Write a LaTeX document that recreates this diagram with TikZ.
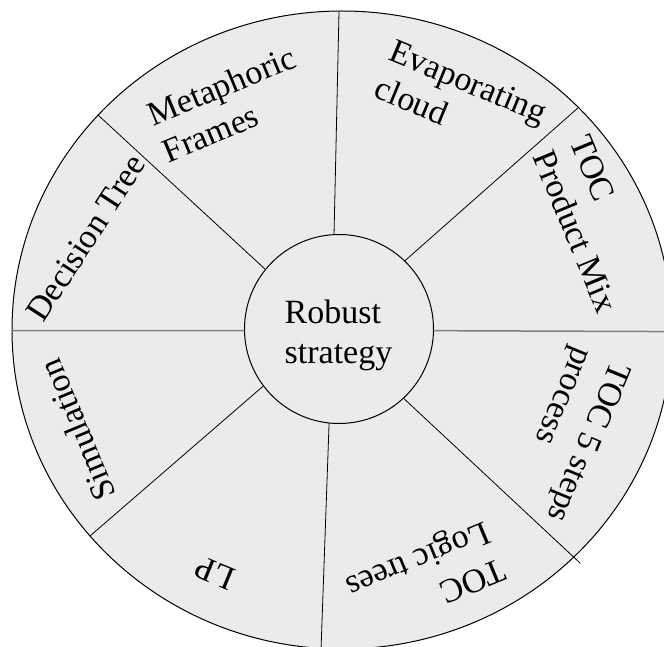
\documentclass[tikz,border=0pt]{standalone}
\usepackage{fontspec}
\setmainfont{Liberation Serif}
\usepackage{tikz}
\usetikzlibrary{calc}

\begin{document}
\begin{tikzpicture}[x=1pt, y=1pt, line cap=round, line join=round,
    rim/.style={line width=1pt, draw=black, fill=wheelFill},
    hub/.style={circle, draw=black, line width=1pt, fill=wheelFill, minimum size=189pt, inner sep=0pt},
    spoke/.style={line width=0.8pt, draw=black},
    flatspoke/.style={line width=1.5pt, draw=spokeGray},
    sectortext/.style={font=\fontsize{34}{40}\selectfont, align=left, inner sep=0pt}]

  % Colors
  \colorlet{wheelFill}{black!8}
  \colorlet{spokeGray}{black!50}

  % Frame of the page
  \useasboundingbox (0,0) rectangle (664,646);
  \clip (0,0) rectangle (664,646);

  % Wheel rim and hub
  \draw[rim] (342,316) ellipse [x radius=330, y radius=319];
  \node[hub] (hub) at (339,317) {};
  \node[sectortext] (robust) at (338.5,311) {Robust\\strategy};

  % Outer ends of the spokes
  \coordinate (r1) at (339,634);
  \coordinate (r2) at (579,539);
  \coordinate (r3) at (672,314.4);
  \coordinate (r4) at (580,83);
  \coordinate (r5) at (321,-4);
  \coordinate (r6) at (90,110);
  \coordinate (r7) at (12,315.4);
  \coordinate (r8) at (98,531);

  % Spokes (the two flat ones are grey)
  \draw[spoke]     (hub.93.7)  -- (r1);
  \draw[spoke]     (hub.46.3)  -- (r2);
  \draw[flatspoke] (hub.-1.6)  -- (r3);
  \draw[spoke]     (hub.-47.1) -- (r4);
  \draw[spoke]     (hub.-96.7) -- (r5);
  \draw[spoke]     (hub.-143.2) -- (r6);
  \draw[flatspoke] (hub.181)   -- (r7);
  \draw[spoke]     (hub.141.9) -- (r8);

  % Sector labels, top of the letters facing out
  \node[sectortext, rotate=22.5]   (metaphoric)  at (229,542) {Metaphoric\\Frames};
  \node[sectortext, rotate=-22.5]  (evaporating) at (461,546) {Evaporating\\cloud};
  \node[sectortext, rotate=-67.5]  (tocmix)      at (594,422) {TOC\\Product Mix};
  \node[sectortext, rotate=-112.5] (tocsteps)    at (568,212) {TOC 5 steps\\process};
  \node[sectortext, rotate=-157.5] (toclogic)    at (425,70)  {TOC\\Logic trees};
  \node[sectortext, rotate=157.5]  (lp)          at (215,73)  {LP};
  \node[sectortext, rotate=112.5]  (simulation)  at (77,216)  {Simulation};
  \node[sectortext, rotate=57]     (decision)    at (86,408)  {Decision Tree};

\end{tikzpicture}
\end{document}
